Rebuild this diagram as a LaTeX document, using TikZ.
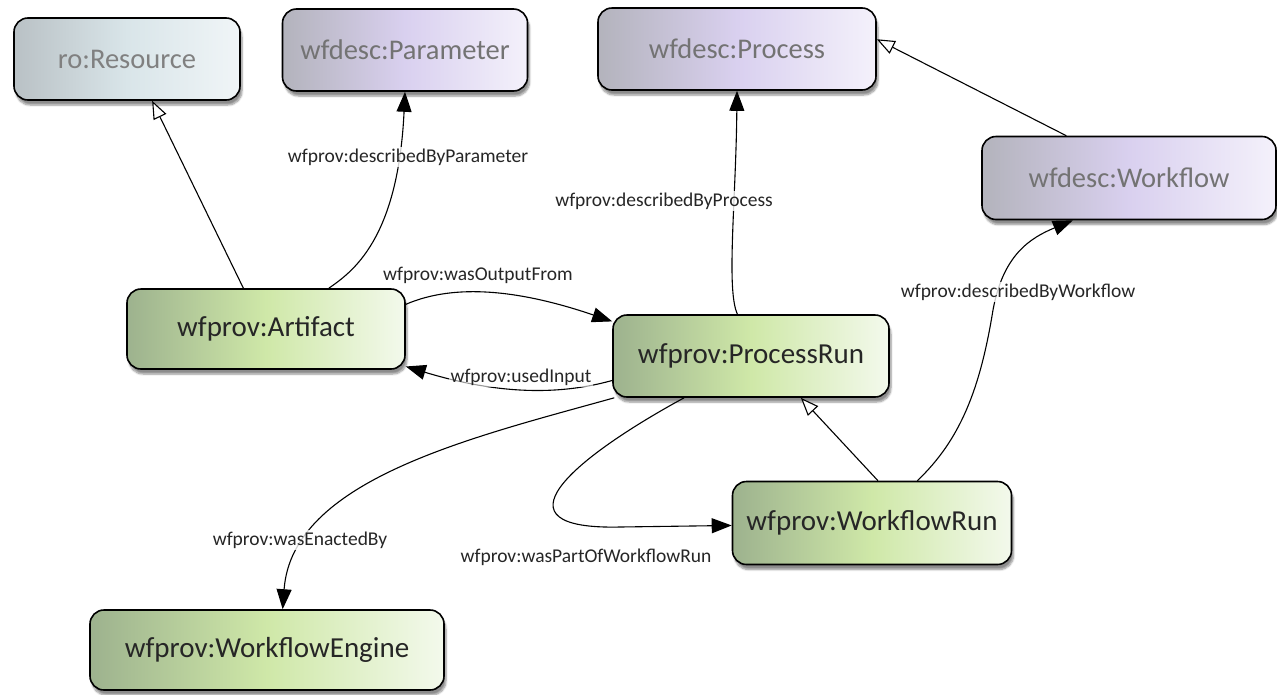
\documentclass[tikz,border=0pt]{standalone}
\usepackage{fontspec}
\setmainfont{Carlito}
\usetikzlibrary{arrows.meta,shadows.blur}
\definecolor{gL}{HTML}{9DB28E}
\definecolor{gM}{HTML}{CFE8A8}
\definecolor{gR}{HTML}{F3F9EC}
\definecolor{pL}{HTML}{B3B3BC}
\definecolor{pM}{HTML}{D9D0EF}
\definecolor{pR}{HTML}{F4F1FB}
\definecolor{rL}{HTML}{B9C1C5}
\definecolor{rM}{HTML}{D9E5E9}
\definecolor{rR}{HTML}{F0F5F7}
\tikzset{
  basebox/.style={draw=black, line width=1.6pt, rounded corners=14pt, inner sep=0pt,
    blur shadow={shadow blur steps=6, shadow xshift=2pt, shadow yshift=-5pt, shadow opacity=45}},
  provbox/.style={basebox, left color=gL, right color=gR, middle color=gM, text=black!85, font=\fontsize{29}{32}\selectfont},
  descbox/.style={basebox, left color=pL, right color=pR, middle color=pM, text=black!55, font=\fontsize{28.5}{32}\selectfont},
  resbox/.style={basebox, left color=rL, right color=rR, middle color=rM, text=black!50, font=\fontsize{28.5}{32}\selectfont},
  rel/.style={line width=1.1pt, -{Triangle[length=20pt, width=15pt]}},
  isa/.style={line width=1.1pt, -{Triangle[open, length=18pt, width=14pt, fill=white]}},
  lbl/.style={fill=white, fill opacity=0.8, text opacity=1, inner sep=2pt, text=black!85, font=\fontsize{19.5}{22}\selectfont}
}
\begin{document}
\begin{tikzpicture}[x=1pt,y=-1pt]
\useasboundingbox (0,0) rectangle (1277,694);
% nodes
\node[resbox, minimum width=226pt, minimum height=82pt] (res) at (127,59) {ro:Resource};
\node[descbox, minimum width=245pt, minimum height=82pt] (param) at (405,50) {wfdesc:Parameter};
\node[descbox, minimum width=278pt, minimum height=82pt] (proc) at (737,49) {wfdesc:Process};
\node[descbox, minimum width=294pt, minimum height=83pt] (wf) at (1129,178) {wfdesc:Workflow};
\node[provbox, minimum width=278pt, minimum height=80pt] (art) at (266,329) {wfprov:Artifact};
\node[provbox, minimum width=276pt, minimum height=82pt] (pr) at (751,356) {wfprov:ProcessRun};
\node[provbox, minimum width=279pt, minimum height=83pt] (wfr) at (872,523) {wfprov:WorkflowRun};
\node[provbox, minimum width=354pt, minimum height=80pt] (eng) at (267,650) {wfprov:WorkflowEngine};
% connectors
\draw[isa] (art.119) -- (res.301);
\draw[rel] (art.33) .. controls (352,272) and (398,240) .. (param.south);
\draw[rel] (pr.108) .. controls (726,290) and (736,200) .. (proc.south);
\draw[isa] (wf.146) -- (proc.4);
\draw[rel] (art.10) .. controls (455,283) and (520,290) .. (pr.166);
\draw[rel] (pr.190) .. controls (560,395) and (500,395) .. (art.345);
\draw[rel] (pr.197) .. controls (470,438) and (292,480) .. (eng.69);
\draw[rel] (pr.212) .. controls (570,460) and (490,530) .. (620,527) -- (wfr.181);
\draw[isa] (wfr.82) -- (pr.320);
\draw[rel] (wfr.43) .. controls (960,440) and (980,390) .. (993,310) .. controls (1003,255) and (1030,238) .. (wf.217);
% labels
\node[lbl] (l1) at (408,157) {wfprov:describedByParameter};
\node[lbl] (l2) at (664,201) {wfprov:describedByProcess};
\node[lbl, fill opacity=0] (l3) at (478,275) {wfprov:wasOutputFrom};
\node[lbl, fill opacity=0.6] (l4) at (521,377) {wfprov:usedInput};
\node[lbl] (l5) at (300,540) {wfprov:wasEnactedBy};
\node[lbl] (l6) at (586,557) {wfprov:wasPartOfWorkflowRun};
\node[lbl] (l7) at (1018,292) {wfprov:describedByWorkflow};
\end{tikzpicture}
\end{document}
